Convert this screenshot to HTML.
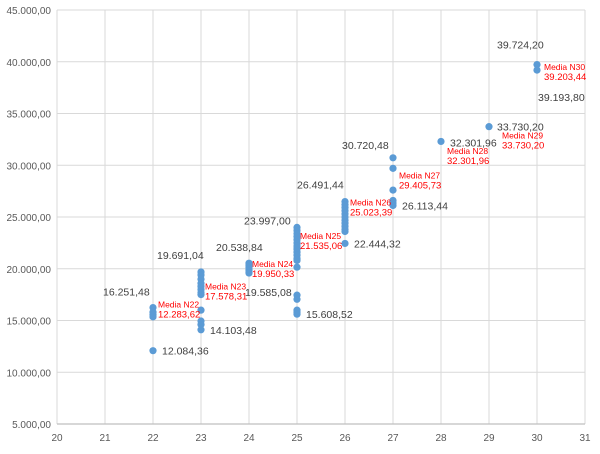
<!DOCTYPE html>
<html><head><meta charset="utf-8"><style>
body{margin:0;background:#fff;width:600px;height:454px;overflow:hidden}
svg{display:block;font-family:"Liberation Sans",sans-serif}
</style></head><body>
<svg id="chart" width="600" height="454"></svg>
<script>
const xTicks=[20,21,22,23,24,25,26,27,28,29,30,31];
const yTicks=[5000,10000,15000,20000,25000,30000,35000,40000,45000];
const yTickLabels=["5.000,00","10.000,00","15.000,00","20.000,00","25.000,00","30.000,00","35.000,00","40.000,00","45.000,00"];
const pointX=[22,22,22,22,22,
23,23,23,23,23,23,23,23,23,23,23,23,
24,24,24,24,24,24,24,
25,25,25,25,25,25,25,25,25,25,25,25,25,25,25,25,25,25,25,25,
26,26,26,26,26,26,26,26,26,26,26,26,
27,27,27,27,27,27,
28,29,30,30];
const pointY=[16251.48,15800,15550,15350,12084.36,
19691.04,19400,19000,18600,18300,18000,17700,17500,16000,14950,14600,14103.48,
20538.84,20350,20150,19950,19800,19650,19585.08,
23997,23700,23400,23100,22800,22500,22200,21900,21600,21300,21000,20800,20150,17450,17050,16000,15800,15608.52,20900,22000,
26491.44,26200,25900,25600,25300,25000,24700,24400,24100,23800,23600,22444.32,
30720.48,29700,27600,26600,26350,26113.44,
32301.96,33730.2,39724.2,39193.8];
const valueLabels=["16.251,48","12.084,36","19.691,04","14.103,48","20.538,84","19.585,08","23.997,00","15.608,52","26.491,44","22.444,32","30.720,48","26.113,44","32.301,96","33.730,20","39.724,20","39.193,80"];
const valueLabelPos=[[22,16251.48,-50,-12],[22,12084.36,9,4],[23,19691.04,-44,-13],[23,14103.48,9,4],[24,20538.84,-33,-12],[24,19585.08,-4,23],[25,23997,-53,-3],[25,15608.52,9,4],[26,26491.44,-48,-13],[26,22444.32,9,4],[27,30720.48,-51,-9],[27,26113.44,9,4],[28,32301.96,9,5],[29,33730.2,8,4],[30,39724.2,-40,-16],[30,39193.8,1,31]];
const meanNames=["Media N22","Media N23","Media N24","Media N25","Media N26","Media N27","Media N28","Media N29","Media N30"];
const meanValues=["12.283,62","17.578,31","19.950,33","21.535,06","25.023,39","29.405,73","32.301,96","33.730,20","39.203,44"];
const meanPos=[[22,15600,5,-7],[23,18000,4,0],[24,20150,3,0],[25,22300,3,-6],[26,25800,5,-3],[27,28800,6,1],[28,31400,6,3],[29,32800,13,2],[30,39400,7,2]];

const L=57,R=585,T=10,B=424;
const sx=v=>L+(v-20)*(R-L)/11;
const sy=v=>B-(v-5000)*(B-T)/40000;
const svg=document.getElementById('chart');
const NS='http://www.w3.org/2000/svg';
function mk(tag,at){const e=document.createElementNS(NS,tag);for(const k in at)e.setAttribute(k,at[k]);svg.appendChild(e);return e;}
yTicks.forEach((v,i)=>{
  const l=mk('line',{x1:L,x2:R,y1:sy(v),y2:sy(v),stroke:'#d9d9d9','stroke-width':1});
  
  
  const t=mk('text',{x:L-6,y:sy(v)+4,'text-anchor':'end','font-size':10,fill:'#595959'});
  t.textContent=yTickLabels[i];
  
  
});
xTicks.forEach(v=>{
  const l=mk('line',{x1:sx(v),x2:sx(v),y1:T,y2:B,stroke:'#d9d9d9','stroke-width':1});
  
  
  const t=mk('text',{x:sx(v),y:B+17,'text-anchor':'middle','font-size':10,fill:'#595959'});
  t.textContent=v;
  
  
});
const ax=mk('line',{x1:L,x2:R,y1:B,y2:B,stroke:'#bfbfbf','stroke-width':1.2});


pointX.forEach((x,i)=>{
  const c=mk('circle',{cx:sx(x),cy:sy(pointY[i]),r:3.6,fill:'#5b9bd5'});
  
  
});
valueLabelPos.forEach((p,i)=>{
  const t=mk('text',{x:sx(p[0])+p[2],y:sy(p[1])+p[3],'font-size':10.5,fill:'#404040'});
  t.textContent=valueLabels[i];
  
  
});
meanPos.forEach((p,i)=>{
  const x=sx(p[0])+p[2],y=sy(p[1])+p[3];
  const a=mk('text',{x:x,y:y,'font-size':8.5,fill:'#ff0000'});
  a.textContent=meanNames[i];
  
  
  const b=mk('text',{x:x,y:y+10,'font-size':9.5,fill:'#ff0000'});
  b.textContent=meanValues[i];
  
  
});
</script>
</body></html>
